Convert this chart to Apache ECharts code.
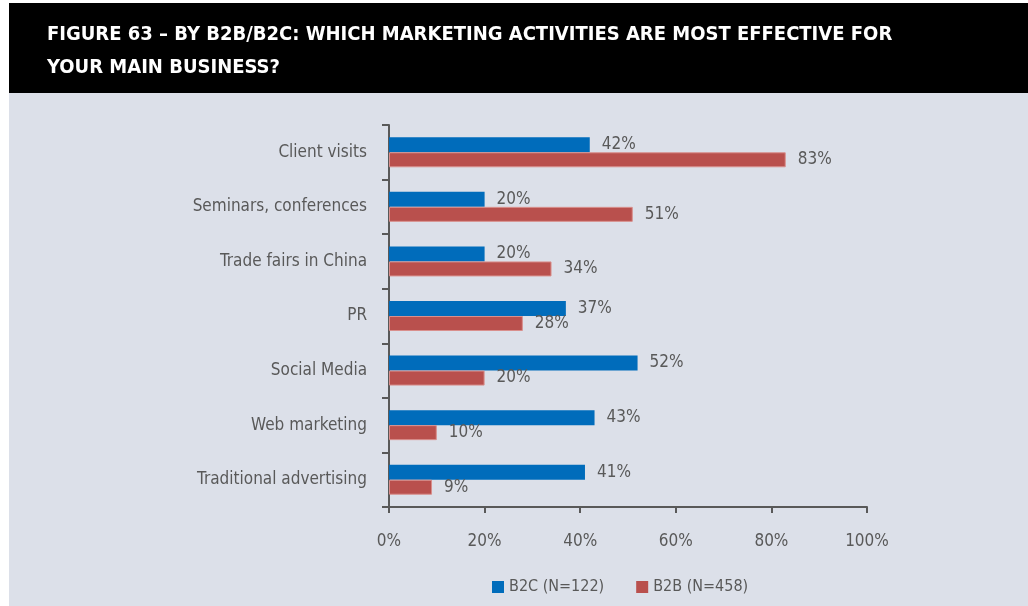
<!DOCTYPE html>
<html>
<head>
<meta charset="utf-8">
<script src="https://cdn.jsdelivr.net/npm/echarts@6/dist/echarts.min.js"></script>
<style>
html,body{margin:0;padding:0;background:#fff;}
#c{width:1028px;height:606px;}
</style>
</head>
<body>
<div id="c"></div>
<script>
const categories = ["Client visits","Seminars, conferences","Trade fairs in China","PR","Social Media","Web marketing","Traditional advertising"];
const b2c = [42,20,20,37,52,43,41];
const b2b = [83,51,34,28,20,10,9];
const seriesNames = ["B2C (N=122)","B2B (N=458)"];
const xTicks = [0,20,40,60,80,100];
const titleLines = ["FIGURE 63 \u2013 BY B2B/B2C: WHICH MARKETING ACTIVITIES ARE MOST EFFECTIVE FOR","YOUR MAIN BUSINESS?"];

const FONT = "'Liberation Sans Narrow','DejaVu Sans Condensed','Arial Narrow',sans-serif";
const TXT = '#595959';
const chart = echarts.init(document.getElementById('c'), null, {renderer:'canvas'});
const labelStyle = {show:true, position:'right', distance:12, formatter:'{c}%', color:TXT, fontFamily:FONT, fontSize:17};
chart.setOption({
  backgroundColor:'#ffffff',
  animation:false,
  graphic:[
    {type:'rect', z:0, shape:{x:9,y:93,width:1019,height:513}, style:{fill:'#dce0e9'}},
    {type:'rect', z:0, shape:{x:9,y:3,width:1019,height:90}, style:{fill:'#000000'}}
  ],
  title:{
    text:titleLines.join('\n'), left:42, top:13,
    textStyle:{color:'#ffffff', fontFamily:FONT, fontSize:20, fontWeight:'bold', lineHeight:33}
  },
  legend:{
    bottom:6, left:487, icon:'rect', itemWidth:12, itemHeight:12, itemGap:32,
    itemStyle:{borderWidth:0},
    textStyle:{color:TXT, fontFamily:FONT, fontSize:16},
    data:seriesNames
  },
  grid:{left:389, right:161, top:125, bottom:99, containLabel:false},
  xAxis:{
    type:'value', min:0, max:100, interval:20,
    axisLine:{show:true, lineStyle:{color:TXT, width:2}},
    axisTick:{show:true, length:6, lineStyle:{color:TXT, width:2}},
    splitLine:{show:false},
    axisLabel:{formatter:v=>xTicks.includes(v)?v+'%':'', color:TXT, fontFamily:FONT, fontSize:17, margin:26}
  },
  yAxis:{
    type:'category', data:categories, inverse:true,
    axisLine:{show:true, lineStyle:{color:TXT, width:2}},
    axisTick:{show:true, length:7, lineStyle:{color:TXT, width:2}},
    axisLabel:{color:TXT, fontFamily:FONT, fontSize:17, margin:22}
  },
  series:[
    {name:seriesNames[0], type:'bar', data:b2c, barWidth:15, barGap:'0%', itemStyle:{color:'#006cbb'}, label:labelStyle},
    {name:seriesNames[1], type:'bar', data:b2b, barWidth:15, barGap:'0%', itemStyle:{color:'#b9504d', borderColor:'#d98f8c', borderWidth:1}, label:labelStyle}
  ]
});
</script>
</body>
</html>
